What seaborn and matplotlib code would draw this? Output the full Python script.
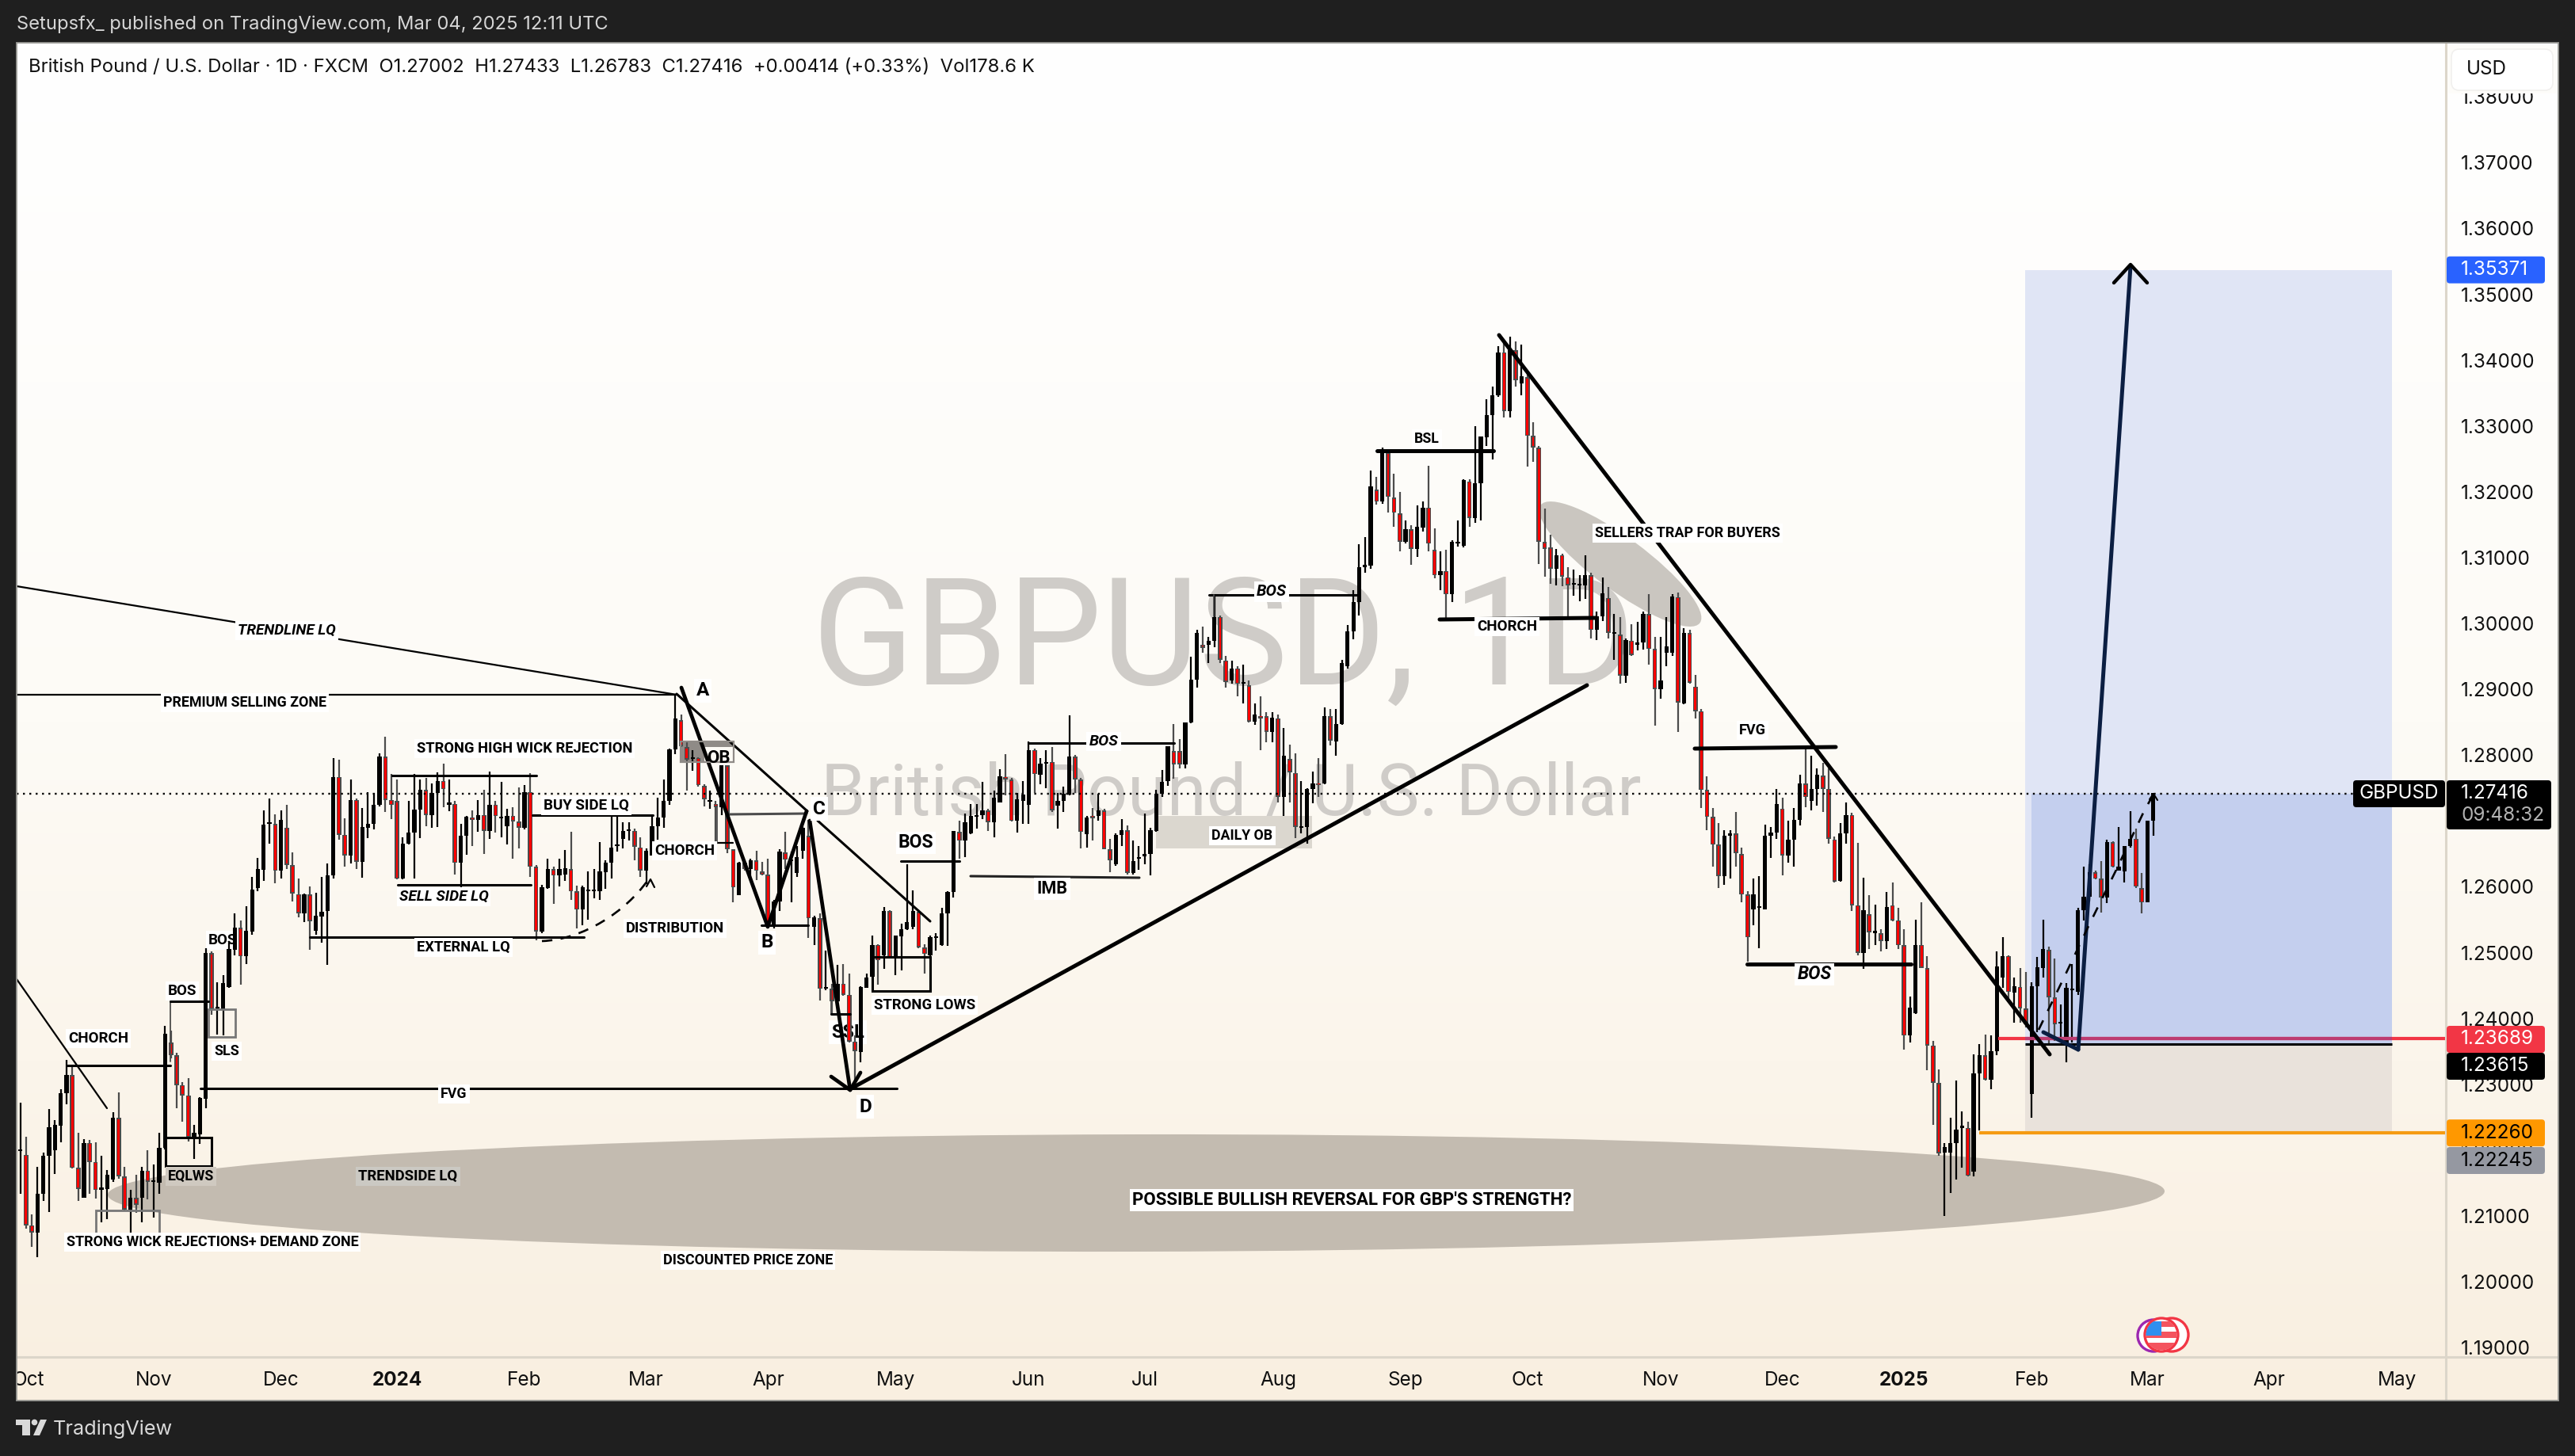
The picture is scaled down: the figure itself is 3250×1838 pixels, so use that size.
import numpy as np
import pandas as pd
import matplotlib
matplotlib.use("Agg")
import matplotlib.pyplot as plt
from matplotlib.patches import Rectangle, Ellipse, FancyBboxPatch, Polygon, Circle
from matplotlib.path import Path
from matplotlib.patches import PathPatch
from matplotlib.colors import LinearSegmentedColormap
import seaborn as sns

# ---------- daily candles, prices in 1/10000 USD ----------
highs_1 = [12272,12220,12102,12175,12196,12262,12246,12293,12337,12329,12226,12217,12216,12212,12191,12170,12257,12288,12175,12140,12163,12175,12200,12178,12226,12389,12382,12348,12303,12309,12238,12280,12507,12502,12455,12466,12515,12559,12549,12570,12615,12644,12716,12734,12710,12716,12725,12652,12613,12590,12601,12591,12615,12635,12795,12793,12704,12763,12734,12720,12744,12742,12803,12828,12771,12763,12675,12730,12771,12763,12765,12757,12774,12787,12763,12730,12695,12708,12716,12732,12747,12775,12731,12759,12718,12721,12751,12755,12773,12633,12603,12643,12630,12643,12656]
tops_1 = [12201,12193,12086,12133,12191,12235,12238,12286,12314,12314,12173,12211,12211,12182,12143,12163,12249,12249,12160,12127,12127,12169,12169,12153,12203,12377,12363,12344,12299,12283,12226,12279,12499,12499,12417,12454,12506,12538,12538,12533,12596,12627,12694,12696,12695,12701,12690,12633,12589,12588,12588,12556,12562,12617,12767,12767,12679,12732,12732,12691,12696,12724,12798,12798,12732,12730,12665,12682,12717,12747,12747,12743,12761,12761,12726,12726,12677,12706,12705,12709,12709,12725,12725,12706,12708,12708,12699,12744,12744,12630,12599,12627,12627,12627,12628]
bottoms_1 = [12198,12086,12075,12075,12133,12191,12200,12237,12286,12173,12141,12128,12182,12139,12140,12141,12155,12160,12110,12110,12117,12127,12152,12152,12151,12203,12344,12299,12283,12220,12220,12224,12278,12414,12415,12414,12448,12504,12494,12494,12532,12598,12626,12695,12624,12624,12633,12590,12560,12560,12548,12533,12555,12563,12617,12679,12648,12648,12638,12638,12690,12696,12724,12732,12724,12612,12612,12665,12682,12717,12709,12709,12742,12748,12725,12636,12636,12677,12701,12701,12685,12685,12707,12704,12692,12699,12690,12689,12630,12532,12532,12598,12617,12617,12618]
lows_1 = [12133,12081,12053,12037,12123,12106,12164,12212,12269,12172,12123,12128,12134,12126,12090,12095,12152,12157,12108,12071,12105,12090,12125,12097,12134,12201,12339,12263,12243,12213,12187,12209,12263,12405,12376,12374,12447,12496,12451,12483,12527,12593,12609,12666,12605,12612,12627,12578,12554,12546,12504,12527,12515,12481,12613,12671,12631,12635,12627,12614,12674,12687,12722,12714,12703,12611,12611,12664,12612,12674,12692,12689,12691,12721,12715,12619,12598,12649,12662,12684,12650,12673,12682,12675,12664,12642,12658,12687,12615,12519,12529,12597,12574,12600,12609]
moves_1 = "KRRKKKKKKR" "RKRRKKKRRK" "RKRKKKRRRR" "KKKRKKKKRK" "KKKKRKRRRK" "RKKKKRRKRK" "KKKRRRKKKK" "RKKRKRKKRK" "RKRKKRRKRR" "KKRKK"

highs_2 = [12683,12602,12602,12623,12627,12668,12640,12709,12709,12698,12698,12688,12675,12658,12707,12735,12763,12810,12892,12862,12821,12808,12797,12756,12746,12731,12784,12784,12657,12638,12640,12642,12655,12638,12642,12580,12657,12683,12653,12662,12692,12701,12556,12559,12503,12453,12481,12483,12468,12374,12449,12468,12526,12513,12569,12564,12526,12544,12634,12595,12565,12513,12526,12529,12568,12593,12685,12700,12711,12726,12726,12759,12718,12746,12778,12801,12765,12743,12761,12821,12810,12795,12808,12812,12743,12752,12860,12800,12765,12707,12720,12741,12718,12673,12681,12703]
tops_2 = [12627,12593,12599,12595,12595,12623,12637,12660,12663,12685,12686,12685,12660,12655,12692,12705,12731,12809,12855,12853,12812,12796,12796,12753,12731,12726,12784,12784,12657,12637,12636,12640,12640,12623,12618,12578,12653,12652,12640,12645,12690,12677,12553,12552,12447,12445,12453,12453,12436,12365,12448,12462,12512,12512,12563,12563,12526,12535,12546,12563,12562,12508,12524,12523,12559,12592,12685,12683,12698,12707,12709,12716,12716,12735,12768,12767,12763,12733,12740,12808,12808,12787,12790,12790,12731,12741,12798,12798,12763,12705,12707,12716,12716,12657,12679,12686]
bottoms_2 = [12593,12565,12565,12593,12593,12593,12622,12637,12662,12673,12685,12661,12625,12625,12648,12692,12705,12730,12809,12814,12793,12794,12754,12733,12729,12721,12721,12657,12599,12587,12627,12627,12624,12618,12539,12539,12578,12641,12639,12621,12655,12552,12539,12445,12445,12426,12426,12436,12365,12350,12349,12447,12463,12488,12496,12492,12492,12525,12535,12539,12508,12498,12496,12522,12511,12559,12592,12670,12670,12681,12706,12709,12698,12698,12728,12763,12700,12700,12731,12725,12771,12770,12787,12716,12723,12731,12740,12763,12683,12680,12704,12707,12657,12640,12634,12679]
lows_2 = [12580,12537,12541,12550,12582,12580,12597,12612,12653,12658,12670,12640,12615,12604,12647,12671,12690,12724,12802,12812,12746,12776,12752,12722,12718,12668,12709,12651,12577,12587,12625,12610,12610,12617,12539,12537,12563,12627,12576,12615,12642,12522,12511,12427,12443,12408,12425,12434,12363,12296,12333,12446,12462,12451,12475,12491,12466,12473,12534,12535,12507,12468,12494,12503,12510,12510,12584,12642,12645,12680,12688,12703,12685,12675,12728,12739,12699,12682,12696,12695,12743,12756,12750,12714,12688,12713,12739,12743,12658,12660,12670,12700,12657,12622,12632,12662]
moves_2 = "RRKKKKKKKK" "KRRKKKKKKR" "RKRRKRKRRK" "RKRRRKKRKK" "KRKRKRKRRR" "KKKRKRKKKK" "RRKKKKKRKK" "KKRKKRRKKK" "RKKRKKKRRK" "RKRRKK"

highs_3 = [12693,12670,12662,12711,12690,12747,12777,12814,12847,12824,12849,12949,12990,12995,12980,13045,13012,12951,12943,12935,12937,12913,12878,12889,12865,12865,12862,12841,12816,12803,12760,12750,12775,12795,12872,12870,12870,12945,12997,13051,13120,13131,13232,13223,13267,13262,13227,13200,13156,13149,13179,13185,13240,13144,13109,13112,13126,13157,13219,13219,13300,13284,13341,13360,13421,13426,13436,13429,13423,13380,13306,13270,13175,13135,13113,13106,13085,13082,13074,13104,13077,13018,13070,13055,13015,13010,12977,12999,13002,13018,13044,12980,12980,13010,13045,13047]
tops_3 = [12686,12639,12643,12650,12686,12741,12759,12813,12806,12806,12849,12915,12986,12967,12974,13010,13010,12944,12932,12932,12909,12906,12862,12859,12859,12857,12856,12799,12794,12773,12692,12749,12757,12757,12859,12859,12847,12940,12988,13032,13085,13088,13208,13203,13262,13259,13191,13167,13143,13143,13147,13176,13176,13112,13080,13080,13124,13124,13218,13216,13213,13284,13317,13347,13412,13412,13415,13415,13375,13374,13285,13267,13124,13115,13104,13104,13070,13060,13060,13073,13073,13011,13046,13039,12986,12983,12975,12974,12971,13015,13014,12961,12913,12965,13041,13040]
bottoms_3 = [12621,12621,12642,12646,12650,12685,12741,12760,12786,12786,12786,12849,12915,12963,12967,12974,12945,12911,12913,12908,12908,12851,12851,12856,12835,12835,12737,12737,12774,12691,12690,12691,12748,12754,12757,12822,12821,12847,12935,12988,13032,13086,13088,13185,13185,13192,13168,13124,13124,13113,13113,13146,13121,13073,13073,13044,13044,13121,13118,13160,13160,13213,13283,13317,13346,13323,13323,13370,13365,13285,13267,13124,13113,13083,13083,13071,13058,13059,13058,13058,12990,12990,13011,12986,12984,12921,12921,12952,12968,12971,12961,12900,12900,12956,12956,12880]
lows_3 = [12618,12618,12626,12634,12617,12684,12736,12753,12764,12780,12780,12848,12902,12956,12940,12964,12940,12902,12908,12889,12878,12850,12846,12807,12820,12820,12728,12707,12728,12674,12681,12665,12727,12736,12756,12815,12799,12846,12932,12976,13012,13077,13083,13180,13182,13168,13147,13110,13121,13089,13101,13139,13109,13068,13050,13004,13033,13117,13116,13147,13153,13156,13270,13249,13344,13313,13313,13360,13346,13238,13246,13090,13071,13060,13058,13056,13010,13042,13034,13037,12977,12975,13004,12977,12945,12909,12910,12951,12959,12960,12938,12845,12886,12935,12951,12835]
moves_3 = "RKKKKKKKRR" "KKKRKKRRKR" "KRKRRKRKRR" "KKKRKRKKKK" "KKKRKRRRKR" "KKRRKRKKKR" "KKKKKRKRKR" "RRRRKRRKKK" "RKKRKRKRKK" "RRKKKR"

highs_4 = [12993,12990,12922,12870,12768,12720,12697,12686,12686,12714,12659,12593,12613,12616,12694,12691,12749,12735,12700,12720,12770,12811,12799,12780,12788,12780,12676,12697,12728,12712,12667,12614,12587,12573,12535,12592,12607,12568,12535,12433,12550,12576,12494,12366,12322,12210,12249,12306,12259,12243,12345,12361,12376,12374,12502,12524,12496,12462,12477,12470,12455,12493,12550,12509,12491,12421,12454,12483,12568,12630,12634,12624,12639,12672,12669,12691,12662,12715,12688,12621,12700,12743]
tops_4 = [12985,12985,12904,12867,12747,12706,12664,12678,12681,12681,12650,12588,12589,12569,12678,12682,12726,12719,12672,12701,12757,12757,12749,12770,12769,12749,12672,12681,12709,12709,12572,12564,12558,12532,12529,12569,12572,12549,12511,12416,12512,12512,12476,12359,12302,12204,12210,12231,12235,12234,12317,12344,12344,12350,12479,12495,12495,12449,12448,12415,12449,12478,12505,12504,12432,12393,12446,12445,12564,12585,12622,12622,12612,12668,12668,12631,12662,12673,12673,12598,12700,12742]
bottoms_4 = [12879,12910,12867,12747,12706,12664,12616,12616,12677,12651,12588,12523,12566,12568,12566,12678,12682,12648,12648,12672,12701,12736,12730,12749,12749,12673,12608,12609,12681,12572,12500,12500,12531,12530,12518,12518,12549,12511,12374,12374,12408,12477,12359,12302,12195,12196,12196,12210,12234,12161,12167,12317,12307,12307,12350,12462,12440,12439,12415,12391,12285,12449,12477,12432,12391,12392,12364,12443,12441,12564,12585,12612,12584,12584,12630,12625,12623,12662,12600,12576,12577,12700]
lows_4 = [12877,12908,12856,12720,12686,12630,12598,12603,12613,12631,12577,12486,12541,12507,12565,12644,12673,12617,12637,12630,12693,12721,12716,12723,12713,12666,12606,12608,12666,12563,12496,12475,12506,12511,12502,12506,12548,12506,12353,12363,12407,12476,12321,12238,12191,12100,12135,12155,12173,12160,12160,12230,12306,12293,12344,12447,12425,12393,12393,12386,12249,12379,12462,12359,12366,12366,12333,12363,12436,12549,12578,12611,12561,12575,12629,12624,12606,12659,12598,12559,12576,12678]
moves_4 = "KRRRRRRKKR" "RRKKKKKRKK" "KRKKRRRKKR" "RKRKRKRRRK" "KRRRRKKKKR" "KKRKKKRKRR" "KKKRRKKKKK" "KRRKRKKKRR" "KK"

month_names = ["Oct", "Nov", "Dec", "2024", "Feb", "Mar", "Apr", "May", "Jun", "Jul", "Aug", "Sep",
               "Oct", "Nov", "Dec", "2025", "Feb", "Mar", "Apr", "May"]
month_bars = [1.4, 23, 45, 65, 87, 108, 129, 151, 174, 194, 217, 239, 260, 283, 304, 325, 347, 367, 388, 410]
price_ticks = [1.19 + 0.01 * k for k in range(20)]

last_price = 1.27416
target_price = 1.35371
entry_price = 1.23615
alert_price = 1.23689
stop_price = 1.22260
avg_price = 1.22245

# ---------- assemble ----------
sets = [(highs_1, tops_1, bottoms_1, lows_1, moves_1), (highs_2, tops_2, bottoms_2, lows_2, moves_2),
        (highs_3, tops_3, bottoms_3, lows_3, moves_3), (highs_4, tops_4, bottoms_4, lows_4, moves_4)]
for s in sets:
    if len({len(v) for v in s}) != 1:
        raise SystemExit(str([len(v) for v in s]))
H = np.concatenate([s[0] for s in sets]) / 1e4
T = np.concatenate([s[1] for s in sets]) / 1e4
B = np.concatenate([s[2] for s in sets]) / 1e4
L = np.concatenate([s[3] for s in sets]) / 1e4
M = np.array(list("".join(s[4] for s in sets)))
bars = np.arange(len(H))
H = np.maximum(H, T)
L = np.minimum(L, B)

sns.set_theme(style="white")
plt.rcParams["font.family"] = ["Roboto", "DejaVu Sans"]

W, HH = 3250, 1838
fig = plt.figure(figsize=(W / 100, HH / 100), dpi=100, facecolor="#1f1f1f")

def pixel_axes(z):
    a = fig.add_axes([0, 0, 1, 1], zorder=z)
    a.patch.set_visible(False)
    a.set_axis_off()
    return a

under = pixel_axes(1)
over = pixel_axes(3)

PL, PR, PT, PB = 21, 3229, 54, 1768      # panel
AR, AB = 3087, 1713                      # scale axes
BAR_PX = 7.316
PX0 = 25.5

# background gradient
cmap = LinearSegmentedColormap.from_list("bg", ["#ffffff", "#fdfbf6", "#f9efe0"])
under.imshow(np.linspace(0, 1, 256).reshape(-1, 1), cmap=cmap, aspect="auto", extent=[PL, PR, PB, PT], zorder=0)

# watermark
WM = "#cfccc8"
under.text(1025, 812, "GBPUSD, 1D", fontsize=136, color=WM, ha="left", va="center", family="Roboto", zorder=1)
under.text(1036, 1004, "British Pound / U.S. Dollar", fontsize=65, color=WM, ha="left", va="center", family="Roboto", zorder=1)

# shaded zones beneath candles
under.add_patch(Ellipse((1434, 1506), 2596, 148, angle=-0.1, fc="#c3bbb0", ec="none", zorder=2))
under.add_patch(Ellipse((2045, 712), 250, 66, angle=36.5, fc="#b9b5ae", ec="none", alpha=0.75, zorder=2))
under.add_patch(Rectangle((1459, 1030), 197, 41, fc="#dbd7cf", ec="none", zorder=2))
under.add_patch(Rectangle((859, 936), 67, 7, fc="#8f8b87", ec="none", zorder=2))
under.add_patch(Rectangle((859, 943), 30, 19, fc="#8f8b87", ec="none", zorder=2))

# ---------- main price axes ----------
ax = fig.add_axes([PL / W, 1 - AB / HH, (AR - PL) / W, (AB - PT) / HH], zorder=2)
ax.patch.set_visible(False)
for s in ax.spines.values():
    s.set_visible(False)

wicks = pd.DataFrame({
    "bar": np.r_[bars, bars],
    "price": np.r_[L, H],
    "kind": np.r_[M, M],
})
wicks = wicks.sort_values(["bar", "price"])
sns.lineplot(data=wicks, x="bar", y="price", units="bar", estimator=None, hue="kind",
             palette={"K": "#000000", "R": "#4c4c4c"}, legend=False, linewidth=1.6,
             sort=False, ax=ax, zorder=3, solid_capstyle="butt")

heights = np.maximum(T - B, 0.00025)
is_up = M == "K"
ax.bar(bars[is_up], heights[is_up], bottom=B[is_up], width=0.72, color="#000000", linewidth=0, zorder=4)
ax.bar(bars[~is_up], heights[~is_up], bottom=B[~is_up], width=0.78, color="#4c4c4c", linewidth=0, zorder=4)
ax.bar(bars[~is_up], np.maximum(heights[~is_up] - 0.0004, 0.0001), bottom=B[~is_up] + 0.0002, width=0.38,
       color="#ff0000", linewidth=0, zorder=5)

x_at = lambda px: (px - PX0) / BAR_PX
y_at = lambda px: 1.26 + (1119.4 - px) / 8310

# position tool
bx0, bx1, bx2 = x_at(2556), x_at(2564), x_at(3019)
ax.fill_between([bx0, bx2], entry_price, target_price, color="#e0e5f5", lw=0, zorder=1)
ax.fill_between([bx1, bx2], entry_price, last_price, color="#c4cfee", lw=0, zorder=1.1)
ax.fill_between([bx0, bx2], stop_price, entry_price, color="#e9e2db", lw=0, zorder=1)

ax.plot([x_at(2522), x_at(AR)], [alert_price] * 2, color="#f23645", lw=3, zorder=6, solid_capstyle="butt")
ax.plot([bx0, bx2], [alert_price] * 2, color="#bd3b70", lw=3, zorder=6.1, solid_capstyle="butt")
ax.plot([bx0, bx2], [entry_price] * 2, color="#000000", lw=2.2, zorder=6, solid_capstyle="butt")
ax.plot([x_at(2498), x_at(AR)], [stop_price] * 2, color="#f59b12", lw=3, zorder=6, solid_capstyle="butt")
ax.plot([x_at(PL), x_at(2970)], [last_price] * 2, color="#000000", lw=1.7, linestyle=(0, (1, 2.4)), zorder=6)

ax.set_xlim(x_at(PL), x_at(AR))
ax.set_ylim(y_at(AB), y_at(PT))
ax.set_xlabel("")
ax.set_ylabel("")
ax.yaxis.tick_right()
ax.set_yticks(price_ticks)
ax.set_yticklabels([f"{p:.5f}" for p in price_ticks], family="Inter", fontsize=17.5, color="#111111")
ax.tick_params(axis="y", length=0, pad=13.5)
ax.set_xticks(month_bars)
ax.set_xticklabels(month_names, family="Inter", fontsize=17.5, color="#111111")
ax.tick_params(axis="x", length=0, pad=13)
for t in ax.get_xticklabels():
    if t.get_text() in ("2024", "2025"):
        t.set_fontweight("bold")
ax.grid(False)

# ---------- drawings (page layout, pixel axes) ----------
def line(pts, lw=2.0, c="#000000", z=5, **kw):
    xs, ys = zip(*pts)
    kw.setdefault("solid_capstyle", "round")
    over.plot(xs, ys, color=c, lw=lw, zorder=z, **kw)

thin, mid, thick = 1.6, 2.2, 3.6
GR = "#4c4c4c"
for pts, lw, col in [
    ([(21, 740), (854, 877)], thin, "#000000"),
    ([(21, 877), (854, 877)], thin, "#000000"),
    ([(21, 1236), (135, 1399)], thin, "#000000"),
    ([(84, 1345), (215, 1345)], mid, "#000000"),
    ([(215, 1340), (215, 1264)], 1.3, GR),
    ([(215, 1264), (263, 1264)], mid, "#000000"),
    ([(253, 1374), (1132, 1374)], mid, "#000000"),
    ([(495, 979), (677, 979)], mid, "#000000"),
    ([(502, 1117), (670, 1117)], mid, "#000000"),
    ([(391, 1183), (737, 1183)], mid, "#000000"),
    ([(672, 1029), (824, 1029)], mid, "#000000"),
    ([(829, 1064), (925, 1064)], thin, "#000000"),
    ([(905, 1019), (905, 1064)], 1.3, GR),
    ([(919, 1028), (1018, 1027)], mid, GR),
    ([(961, 1168), (1020, 1168)], mid, "#000000"),
    ([(1049, 1249), (1049, 1280)], 1.3, GR),
    ([(1049, 1280), (1073, 1280)], mid, "#000000"),
    ([(1137, 1087), (1211, 1087)], mid, "#000000"),
    ([(1225, 1106), (1438, 1108)], mid, "#222222"),
    ([(1298, 938), (1482, 938)], mid, "#000000"),
    ([(1526, 751), (1716, 751)], mid, "#000000"),
    ([(1532, 751), (1532, 778)], 1.3, GR),
    ([(1738, 569), (1885, 569)], thick, "#000000"),
    ([(1817, 782), (2014, 780)], thick, "#000000"),
    ([(1892, 423), (2587, 1331)], thick, "#000000"),
    ([(2139, 945), (2317, 943)], thick, "#000000"),
    ([(2205, 1217), (2412, 1217)], thick, "#000000"),
    ([(854, 876), (1019, 1024)], mid, "#000000"),
    ([(1032, 1036), (1174, 1163)], mid, "#000000"),
    ([(860, 868), (969, 1170), (1018, 1024)], 3.4, "#000000"),
    ([(1022, 1036), (1073, 1376)], 3.4, "#000000"),
    ([(1049, 1359), (1073, 1376), (1086, 1354)], 3.4, "#000000"),
    ([(1078, 1372), (2003, 865)], thick, "#000000"),
    ([(2579, 1303), (2623, 1325)], thick, "#0b1e42"),
    ([(2623, 1325), (2689, 336)], thick, "#0b1e42"),
    ([(2668, 357), (2689, 334), (2710, 357)], 3.2, "#000000"),
]:
    line(pts, lw, col)

# outlined boxes
for (x0, y0, x1, y1), col, lw in [
    ((209, 1436, 267, 1472), "#000000", 2.2),
    ((263, 1274, 297, 1309), "#777777", 2.0),
    ((121, 1528, 201, 1557), "#777777", 2.0),
    ((1101, 1208, 1174, 1251), "#000000", 2.2),
    ((859, 936, 926, 962), "#8f8b87", 1.6),
]:
    over.add_patch(Rectangle((x0, y0), x1 - x0, y1 - y0, fc="none", ec=col, lw=lw, zorder=5))

# dashed curves
dist = Path([(684, 1188), (737, 1186), (790, 1150), (817, 1112)], [Path.MOVETO, Path.CURVE4, Path.CURVE4, Path.CURVE4])
over.add_patch(PathPatch(dist, fc="none", ec="#000000", lw=1.9, ls=(0, (5, 4)), zorder=5))
line([(816, 1119), (821, 1110), (826, 1120)], 1.6)
line([(2573, 1300), (2606, 1232), (2636, 1169), (2671, 1098), (2707, 1022), (2718, 1003)], 1.9, ls=(0, (5, 5)), solid_capstyle="butt")
line([(2713, 1009), (2718, 1002), (2723, 1010)], 1.5)

# ---------- labels ----------
def label(x, y, s, size=13.3, style="normal", target=None, pad=2.2, fc="white", z=8):
    target = target or over
    target.text(x, y, s, fontsize=size, fontweight="bold", fontstyle=style, color="#000000",
                ha="center", va="center", zorder=z,
                bbox=dict(fc=fc, ec="none", pad=pad) if fc else None)

label(362, 796, "TRENDLINE LQ", style="italic", size=13.6)
label(309, 887, "PREMIUM SELLING ZONE", size=12.9)
label(662, 945, "STRONG HIGH WICK REJECTION", size=13.2)
label(740, 1017, "BUY SIDE LQ", size=13.5)
label(864, 1074, "CHORCH", size=13.5)
label(560, 1132, "SELL SIDE LQ", style="italic", size=13.7)
label(852, 1172, "DISTRIBUTION", size=13.3)
label(585, 1196, "EXTERNAL LQ", size=13.2)
label(281, 1187, "BOS", size=13.5, target=under, z=3)
label(230, 1251, "BOS", size=13.5)
label(124, 1311, "CHORCH", size=13.5)
label(286, 1327, "SLS", size=13)
label(573, 1381, "FVG", size=12.8)
label(241, 1485, "EQLWS", size=12.8, fc="#cfc9c0")
label(515, 1485, "TRENDSIDE LQ", size=13.3, fc="#cbc9c3")
label(268, 1568, "STRONG WICK REJECTIONS+ DEMAND ZONE", size=13)
label(944, 1591, "DISCOUNTED PRICE ZONE", size=13)
label(887, 872, "A", size=17.5)
label(907, 957, "OB", size=16, fc=None)
label(1034, 1021, "C", size=17.5)
label(968, 1190, "B", size=17.5)
label(1092, 1397, "D", size=17.5)
label(1070, 1303, "SSL", size=17, target=under, z=3)
label(1156, 1064, "BOS", size=16.5)
label(1328, 1122, "IMB", size=15.6)
label(1167, 1269, "STRONG LOWS", size=13.3)
label(1393, 936, "BOS", style="italic", size=14)
label(1568, 1055, "DAILY OB", size=12.8)
label(1605, 747, "BOS", style="italic", size=14.5)
label(1801, 554, "BSL", size=12.7)
label(1902, 791, "CHORCH", size=13.5)
label(2130, 673, "SELLERS TRAP FOR BUYERS", size=13)
label(2212, 922, "FVG", size=13)
label(2290, 1230, "BOS", style="italic", size=16.5)
label(1706, 1515, "POSSIBLE BULLISH REVERSAL FOR GBP'S STRENGTH?", size=16)

# ---------- coin icon ----------
under_z = 7
def disc(cx, cy, r, edge, lw=2.4):
    c = Circle((cx, cy), r, fc="white", ec=edge, lw=lw, zorder=under_z)
    over.add_patch(c)
    return c
disc(2718, 1686, 20, "#9c27b0")
disc(2741, 1685, 21, "#f23645")
front = disc(2728, 1685, 21, "#f23645")
for y0, h, col, x0, w in [(1668, 7, "#f4545f", 2708, 40), (1681, 8, "#f4545f", 2708, 40), (1695, 9, "#f4545f", 2708, 40),
                          (1668, 18, "#2f8fef", 2708, 20)]:
    r = Rectangle((x0, y0), w, h, fc=col, ec="none", zorder=under_z + 0.1)
    over.add_patch(r)
    r.set_clip_path(Circle((2728, 1685), 19.5, transform=over.transData))

# ---------- scale labels ----------
def tag(x0, x1, y0, y1, fc, round_left=False):
    over.add_patch(FancyBboxPatch((x0 + 3, y0 + 3), x1 - x0 - 6, y1 - y0 - 6, boxstyle="round,pad=3,rounding_size=4",
                                  fc=fc, ec="none", zorder=9))

def y_of(p):
    return 1119.4 - (p - 1.26) * 8310

TXT = dict(family="Inter", fontsize=17.5, va="center", ha="left", zorder=10)
for p, fc, tc, txt in [(target_price, "#2962ff", "white", "1.35371"),
                       (alert_price, "#f23645", "white", "1.23689"),
                       (entry_price, "#000000", "white", "1.23615"),
                       (stop_price, "#ff9800", "black", "1.22260"),
                       (avg_price, "#9598a1", "black", "1.22245")]:
    yc = y_of(p)
    if p == entry_price:
        yc = 1346
    elif p == avg_price:
        yc = 1465
    elif p == alert_price:
        yc = 1312
    tag(3088, 3212, yc - 17, yc + 17, fc)
    over.text(3106, yc, txt, color=tc, **TXT)
tag(3088, 3220, 985, 1047, "#000000")
over.text(3106, 1001, "1.27416", color="white", **TXT)
over.text(3106, 1029, "09:48:32", color="#b2b2b2", **TXT)
tag(2970, 3086, 985, 1019, "#000000")
over.text(3028, 1002, "GBPUSD", color="white", family="Inter", fontsize=17.5, va="center", ha="center", zorder=10)

# USD box
over.add_patch(Rectangle((3089, 56), 139, 62, fc="#fdfcf9", ec="none", zorder=8))
over.add_patch(FancyBboxPatch((3100, 68), 116, 40, boxstyle="round,pad=6,rounding_size=10", fc="white", ec="#f1f0ee", lw=1.2, zorder=9))
over.text(3113, 87, "USD", family="Inter", fontsize=17.5, color="#111111", va="center", ha="left", zorder=10)

# axis rules
over.plot([AR, AR], [PT, PB], color="#dcd6ca", lw=2.2, zorder=7, solid_capstyle="butt")
over.plot([PL, PR], [AB, AB], color="#dcd6ca", lw=2.2, zorder=7, solid_capstyle="butt")

# ---------- page frame ----------
DK = "#1f1f1f"
for x0, y0, w, h in [(0, 0, PL, HH), (PR, 0, W - PR, HH), (0, 0, W, PT), (0, PB, W, HH - PB)]:
    over.add_patch(Rectangle((x0, y0), w, h, fc=DK, ec="none", zorder=11))
over.add_patch(Rectangle((PL, PT), PR - PL, PB - PT, fc="none", ec="#9a9a96", lw=1.3, zorder=12))
over.text(21, 31, "Setupsfx_ published on TradingView.com, Mar 04, 2025 12:11 UTC", color="#d6d6d6",
          family="Inter", fontsize=17.1, va="center", ha="left", zorder=13)
over.text(36, 85, "British Pound / U.S. Dollar · 1D · FXCM  O1.27002  H1.27433  L1.26783  C1.27416  +0.00414 (+0.33%)  Vol178.6 K",
          color="#111111", family="Inter", fontsize=17.2, va="center", ha="left", zorder=13)
# TradingView footer
LOGO = "#d9d9d9"
over.add_patch(Rectangle((20, 1792), 18, 7, fc=LOGO, ec="none", zorder=13))
over.add_patch(Rectangle((28, 1792), 10, 20, fc=LOGO, ec="none", zorder=13))
over.add_patch(Circle((43.5, 1795.5), 3.8, fc=LOGO, ec="none", zorder=13))
over.add_patch(Polygon([(51, 1792), (59, 1792), (50, 1812), (42, 1812)], fc=LOGO, ec="none", zorder=13))
over.text(67, 1804, "TradingView", color=LOGO, family="Inter", fontsize=18.2, va="center", ha="left", zorder=13)

under.set_xlim(0, W); under.set_ylim(HH, 0)
over.set_xlim(0, W); over.set_ylim(HH, 0)

fig.savefig("out.png", dpi=100, facecolor=fig.get_facecolor())
